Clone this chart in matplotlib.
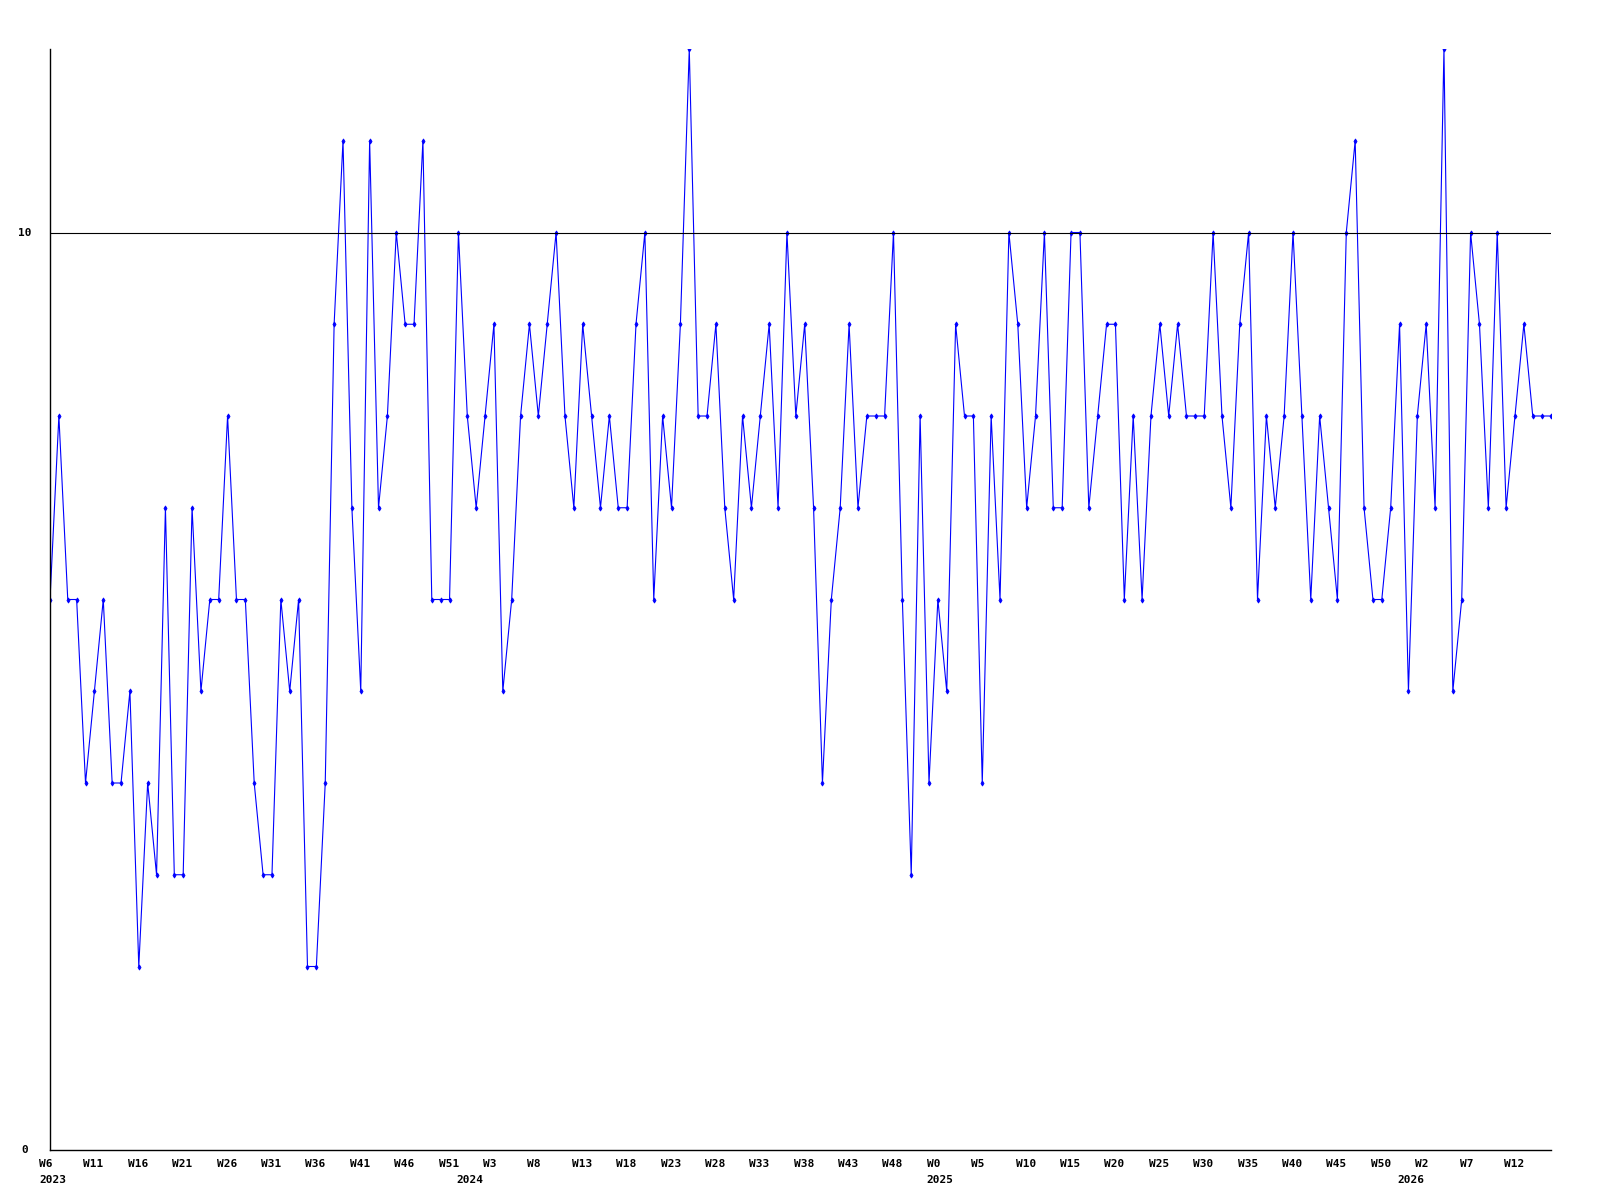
import matplotlib
matplotlib.use("Agg")
import matplotlib.pyplot as plt
import matplotlib.transforms as mtransforms

# weekly counts, one point per week starting W6 2023
values = [6, 8, 6, 6, 4, 5, 6, 4, 4, 5,
          2, 4, 3, 7, 3, 3, 7, 5, 6, 6,
          8, 6, 6, 4, 3, 3, 6, 5, 6, 2,
          2, 4, 9, 11, 7, 5, 11, 7, 8, 10,
          9, 9, 11, 6, 6, 6, 10, 8, 7, 8,
          9, 5, 6, 8, 9, 8, 9, 10, 8, 7,
          9, 8, 7, 8, 7, 7, 9, 10, 6, 8,
          7, 9, 12, 8, 8, 9, 7, 6, 8, 7,
          8, 9, 7, 10, 8, 9, 7, 4, 6, 7,
          9, 7, 8, 8, 8, 10, 6, 3, 8, 4,
          6, 5, 9, 8, 8, 4, 8, 6, 10, 9,
          7, 8, 10, 7, 7, 10, 10, 7, 8, 9,
          9, 6, 8, 6, 8, 9, 8, 9, 8, 8,
          8, 10, 8, 7, 9, 10, 6, 8, 7, 8,
          10, 8, 6, 8, 7, 6, 10, 11, 7, 6,
          6, 7, 9, 5, 8, 9, 7, 12, 5, 6,
          10, 9, 7, 10, 7, 8, 9, 8, 8, 8]

week_labels = ["W6", "W11", "W16", "W21", "W26", "W31", "W36", "W41", "W46", "W51",
               "W3", "W8", "W13", "W18", "W23", "W28", "W33", "W38", "W43", "W48",
               "W0", "W5", "W10", "W15", "W20", "W25", "W30", "W35", "W40", "W45",
               "W50", "W2", "W7", "W12"]
label_step = 5
year_labels = ["2023", "2024", "2025", "2026"]
year_weeks = [0, 47, 100, 153]

font = dict(family="DejaVu Sans Mono", weight="bold", size=8)

fig = plt.figure(figsize=(16, 12), dpi=100)
ax = fig.add_axes([50 / 1600, 50 / 1200, 1500.5 / 1600, 1101 / 1200])

x = list(range(len(values)))
ax.plot(x, values, color="blue", lw=0.8, marker="d", ms=2.6, mew=0.6)
ax.axhline(10, color="black", lw=0.8)

ax.set_xlim(0, len(values) - 1)
ax.set_ylim(0, 12)
for side in ["top", "right"]:
    ax.spines[side].set_visible(False)
ax.spines["left"].set_linewidth(1)
ax.spines["bottom"].set_linewidth(1)
ax.set_xticks([])
ax.set_yticks([])

# y labels
ytrans = mtransforms.blended_transform_factory(ax.transAxes, ax.transData)
for v in [0, 10]:
    ax.text(0, v, str(v), ha="center", va="center",
            transform=mtransforms.offset_copy(ytrans, fig=fig, x=-25, y=0, units="dots"),
            **font)

# x labels: week row and year row
xtrans = mtransforms.blended_transform_factory(ax.transData, ax.transAxes)
wtrans = mtransforms.offset_copy(xtrans, fig=fig, x=-11, y=-14, units="dots")
ytr = mtransforms.offset_copy(xtrans, fig=fig, x=-11, y=-30, units="dots")
for i, lab in enumerate(week_labels):
    ax.text(i * label_step, 0, lab, ha="left", va="center", transform=wtrans, **font)
for pos, lab in zip(year_weeks, year_labels):
    ax.text(pos, 0, lab, ha="left", va="center", transform=ytr, **font)

fig.savefig("out.png", dpi=100)
